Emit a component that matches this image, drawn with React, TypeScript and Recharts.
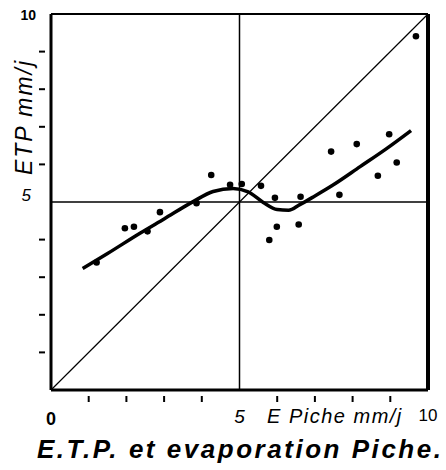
import React from 'react';
import { ComposedChart, Line, Scatter, XAxis, YAxis, ReferenceLine } from 'recharts';

// E Piche (mm/j) vs ETP (mm/j), observed points
const obsX = [1.21, 1.96, 2.2, 2.56, 2.89, 3.86, 4.25, 4.75, 5.06, 5.57, 5.94, 5.79, 5.99, 6.57, 6.62, 7.65, 7.43, 8.67, 9.17, 8.11, 8.97, 9.68];
const obsY = [3.39, 4.3, 4.34, 4.22, 4.73, 4.97, 5.72, 5.46, 5.48, 5.43, 5.11, 3.99, 4.34, 4.4, 5.14, 5.19, 6.34, 5.7, 6.05, 6.54, 6.8, 9.41];

// fitted curve, drawn by hand in the original
const curveX = [0.84, 1.5, 2.36, 3.0, 3.77, 4.3, 4.83, 5.23, 5.63, 6.0, 6.3, 6.6, 7.0, 7.48, 8.2, 8.9, 9.55];
const curveY = [3.23, 3.63, 4.17, 4.55, 5.01, 5.28, 5.36, 5.27, 4.99, 4.8, 4.78, 4.93, 5.16, 5.45, 5.94, 6.42, 6.9];

const ticks = [0, 1, 2, 3, 4, 5, 6, 7, 8, 9, 10];

const points = obsX.map((x, i) => ({ x, y: obsY[i] }));
const curve = curveX.map((x, i) => ({ x, y: curveY[i] }));

const font = '"Liberation Sans", Arial, sans-serif';

// tickLine is off, so x/y here sit right on the axis line
function XTick({ x, y, payload }: any) {
  const v = payload.value;
  let label = null;
  if (v === 0) label = <text x={x} y={y + 29} textAnchor="middle" fontSize={18} fontWeight="bold" fontFamily={font}>0</text>;
  if (v === 5) label = <text x={x} y={y + 27} textAnchor="middle" fontSize={19} fontStyle="italic" fontFamily={font}>5</text>;
  if (v === 10) label = <text x={x} y={y + 25} textAnchor="middle" fontSize={17} fontFamily={font}>10</text>;
  return (
    <g>
      {v > 0 && v < 10 && v !== 5 && <line x1={x} y1={y} x2={x} y2={y + 6} stroke="#000" strokeWidth={2} />}
      {label}
    </g>
  );
}

function YTick({ x, y, payload }: any) {
  const v = payload.value;
  let label = null;
  if (v === 10) label = <text x={x - 9} y={y + 6} textAnchor="end" fontSize={14} fontWeight="bold" fontFamily={font}>10</text>;
  if (v === 5) label = <text x={x - 14} y={y - 1} textAnchor="end" fontSize={17} fontStyle="italic" fontFamily={font}>5</text>;
  return (
    <g>
      {v > 0 && v < 10 && v !== 5 && <line x1={x - 6} y1={y} x2={x} y2={y} stroke="#000" strokeWidth={2} />}
      {label}
    </g>
  );
}

function Dot({ cx, cy }: any) {
  return <circle cx={cx} cy={cy} r={3.3} fill="#000" />;
}

export default function App() {
  return (
    <div style={{ position: 'absolute', left: 0, top: 0, width: 446, height: 470, background: '#fff' }}>
      <ComposedChart width={446} height={470} margin={{ top: 14, right: 18, bottom: 0, left: 0 }}>
        <XAxis
          type="number"
          dataKey="x"
          domain={[0, 10]}
          ticks={ticks}
          height={80}
          axisLine={{ stroke: '#000', strokeWidth: 3 }}
          tickLine={false}
          tickMargin={0}
          tick={<XTick />}
          allowDataOverflow
        />
        <YAxis
          type="number"
          dataKey="y"
          domain={[0, 10]}
          ticks={ticks}
          width={51}
          axisLine={{ stroke: '#000', strokeWidth: 3 }}
          tickLine={false}
          tickMargin={0}
          tick={<YTick />}
          allowDataOverflow
        />
        <ReferenceLine x={10} stroke="#000" strokeWidth={4} />
        <ReferenceLine y={10} stroke="#000" strokeWidth={2} />
        <ReferenceLine x={5} stroke="#000" strokeWidth={1.5} />
        <ReferenceLine y={5} stroke="#000" strokeWidth={1.5} />
        <ReferenceLine segment={[{ x: 0, y: 0 }, { x: 10, y: 10 }]} stroke="#000" strokeWidth={1.2} />
        <Line
          data={curve}
          dataKey="y"
          type="monotone"
          stroke="#000"
          strokeWidth={3.5}
          dot={false}
          isAnimationActive={false}
        />
        <Scatter data={points} dataKey="y" fill="#000" shape={<Dot />} isAnimationActive={false} />
      </ComposedChart>
      <svg width={446} height={470} style={{ position: 'absolute', left: 0, top: 0, pointerEvents: 'none' }}>
        <text
          x={26}
          y={117}
          transform="rotate(-90 26 117)"
          textAnchor="middle"
          dominantBaseline="middle"
          fontSize={23}
          fontStyle="italic"
          fontFamily={font}
          letterSpacing={2}
        >
          ETP mm/j
        </text>
        <text x={267} y={423} fontSize={20} fontStyle="italic" fontFamily={font} letterSpacing={1.5}>
          E Piche mm/j
        </text>
        <text x={37} y={458} fontSize={26} fontStyle="italic" fontWeight="bold" fontFamily={font} textLength={404} lengthAdjust="spacing">
          E.T.P. et evaporation Piche.
        </text>
      </svg>
    </div>
  );
}
